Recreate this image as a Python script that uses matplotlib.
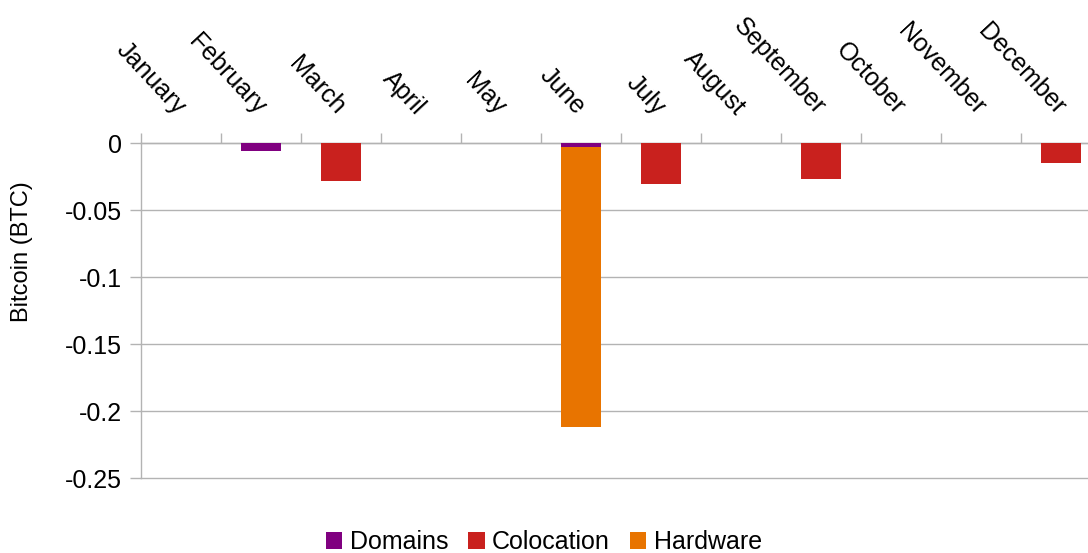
import matplotlib
matplotlib.use("Agg")
import matplotlib.pyplot as plt
import numpy as np
from matplotlib.patches import Patch

months = ["January", "February", "March", "April", "May", "June", "July",
          "August", "September", "October", "November", "December"]
domains = [0, -0.0055, 0, 0, 0, -0.0025, 0, 0, 0, 0, 0, 0]
colocation = [0, 0, -0.028, 0, 0, 0, -0.030, 0, -0.0265, 0, 0, -0.015]
hardware = [0, 0, 0, 0, 0, -0.2095, 0, 0, 0, 0, 0, 0]
series_names = ["Domains", "Colocation", "Hardware"]
series_colors = ["#800080", "#c9211e", "#e87400"]
yticks = [0, -0.05, -0.1, -0.15, -0.2, -0.25]
ytick_labels = ["0", "-0.05", "-0.1", "-0.15", "-0.2", "-0.25"]

plt.rcParams['font.family'] = ['Liberation Sans', 'DejaVu Sans']
FS = 18

fig = plt.figure(figsize=(10.88, 5.53), dpi=100)
W, H = 1088, 553
ax = fig.add_axes([141 / W, 1 - 478.3 / H, 960 / W, 335 / H])

x = np.arange(len(months))
bottom = np.zeros(len(months))
for vals, name, col in zip([domains, colocation, hardware], series_names, series_colors):
    v = np.array(vals)
    ax.bar(x, v, width=0.5, bottom=bottom, color=col, label=name, zorder=3)
    bottom = bottom + v

ax.set_xlim(-0.5, len(months) - 0.5)
ax.set_ylim(-0.25, 0)
ax.set_yticks(yticks)
ax.set_yticklabels(ytick_labels, fontsize=FS)
ax.yaxis.grid(True, color="#b3b3b3", linewidth=1, zorder=0)
for gl in ax.yaxis.get_gridlines():
    gl.set_clip_on(False)
ax.set_axisbelow(True)
ax.tick_params(axis='y', length=8, width=1, color="#b3b3b3", pad=6)

for s in ["right", "bottom"]:
    ax.spines[s].set_visible(False)
for s in ["left", "top"]:
    ax.spines[s].set_color("#b3b3b3")
    ax.spines[s].set_linewidth(1)

ax.xaxis.tick_top()
ax.set_xticks(np.arange(-0.5, len(months) + 0.5, 1))
ax.set_xticklabels([])
ax.tick_params(axis='x', which='major', length=7.5, width=1, color="#b3b3b3", direction='out')
ax.set_xticks(x, minor=True)
ax.set_xticklabels(months, minor=True, fontsize=FS, rotation=-47,
                   ha='right', va='center', rotation_mode='anchor')
ax.tick_params(axis='x', which='minor', length=0, pad=23)

fig.text(22 / W, 1 - 251.5 / H, "Bitcoin (BTC)", rotation=90, fontsize=17,
         ha='center', va='center')

handles = [Patch(facecolor=c, label=n) for n, c in zip(series_names, series_colors)]
fig.legend(handles=handles, loc='center', bbox_to_anchor=(544 / W, 1 - 542 / H),
           ncol=3, frameon=False, fontsize=FS, handlelength=0.65, handleheight=0.65,
           handletextpad=0.3, columnspacing=0.8, borderpad=0.1)

fig.savefig("out.png", dpi=100)
